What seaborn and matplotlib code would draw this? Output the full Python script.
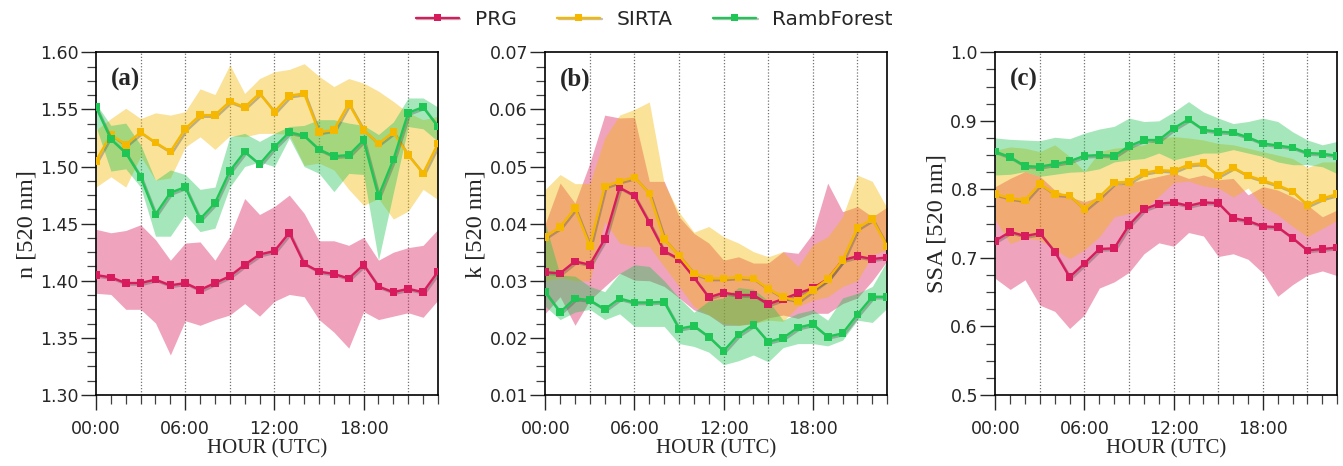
import numpy as np
import pandas as pd
import matplotlib
matplotlib.use("Agg")
import matplotlib.pyplot as plt
import seaborn as sns
from matplotlib.ticker import MultipleLocator, FormatStrFormatter, FixedLocator
from matplotlib.lines import Line2D
import matplotlib.patheffects as pe

# ---------------- data ----------------
hours = list(range(24))
hour_ticks = [0, 6, 12, 18]
hour_labels = ["00:00", "06:00", "12:00", "18:00"]
sites = ["PRG", "SIRTA", "RambForest"]

# (a) refractive index real part n
n_prg = [1.405, 1.403, 1.398, 1.398, 1.401, 1.396, 1.398, 1.392, 1.398, 1.404, 1.414, 1.423,
         1.426, 1.442, 1.415, 1.408, 1.406, 1.402, 1.414, 1.395, 1.390, 1.393, 1.390, 1.408]
n_prg_hi = [1.445, 1.442, 1.444, 1.449, 1.436, 1.418, 1.433, 1.434, 1.418, 1.439, 1.472, 1.458,
            1.465, 1.475, 1.459, 1.435, 1.435, 1.431, 1.438, 1.418, 1.425, 1.429, 1.431, 1.445]
n_prg_lo = [1.389, 1.388, 1.375, 1.375, 1.363, 1.335, 1.365, 1.361, 1.366, 1.370, 1.380, 1.369,
            1.382, 1.388, 1.386, 1.366, 1.355, 1.341, 1.373, 1.366, 1.369, 1.372, 1.368, 1.383]
n_sirta = [1.505, 1.528, 1.519, 1.530, 1.521, 1.513, 1.533, 1.545, 1.545, 1.557, 1.552, 1.564,
           1.548, 1.562, 1.564, 1.530, 1.532, 1.555, 1.532, 1.520, 1.530, 1.510, 1.494, 1.520]
n_sirta_hi = [1.532, 1.542, 1.551, 1.542, 1.547, 1.545, 1.548, 1.568, 1.563, 1.589, 1.564, 1.577,
              1.583, 1.585, 1.590, 1.579, 1.570, 1.577, 1.573, 1.566, 1.557, 1.547, 1.541, 1.544]
n_sirta_lo = [1.482, 1.491, 1.482, 1.509, 1.488, 1.490, 1.517, 1.526, 1.515, 1.527, 1.526, 1.529,
              1.529, 1.528, 1.501, 1.503, 1.497, 1.480, 1.466, 1.472, 1.454, 1.461, 1.480, 1.471]
n_ramb = [1.552, 1.524, 1.512, 1.491, 1.458, 1.477, 1.482, 1.454, 1.468, 1.496, 1.513, 1.502,
          1.517, 1.530, 1.527, 1.515, 1.509, 1.510, 1.523, 1.474, 1.506, 1.547, 1.552, 1.535]
n_ramb_hi = [1.555, 1.536, 1.538, 1.519, 1.488, 1.497, 1.493, 1.480, 1.482, 1.526, 1.529, 1.522,
             1.529, 1.535, 1.536, 1.541, 1.541, 1.538, 1.536, 1.528, 1.539, 1.560, 1.560, 1.552]
n_ramb_lo = [1.535, 1.496, 1.498, 1.482, 1.439, 1.439, 1.458, 1.443, 1.446, 1.482, 1.500, 1.504,
             1.500, 1.525, 1.500, 1.494, 1.478, 1.494, 1.493, 1.418, 1.477, 1.535, 1.533, 1.522]

# (b) imaginary part k
k_prg = [0.0315, 0.0313, 0.0334, 0.0328, 0.0373, 0.0463, 0.0449, 0.0402, 0.0352, 0.0338, 0.0306, 0.0271,
         0.0279, 0.0275, 0.0275, 0.0259, 0.0268, 0.0278, 0.0287, 0.0303, 0.0336, 0.0343, 0.0338, 0.0341]
k_prg_hi = [0.0400, 0.0471, 0.0436, 0.0506, 0.0590, 0.0585, 0.0586, 0.0474, 0.0474, 0.0412, 0.0383, 0.0366,
            0.0336, 0.0342, 0.0331, 0.0331, 0.0351, 0.0348, 0.0383, 0.0471, 0.0421, 0.0430, 0.0412, 0.0429]
k_prg_lo = [0.0243, 0.0272, 0.0222, 0.0266, 0.0290, 0.0313, 0.0301, 0.0300, 0.0290, 0.0270, 0.0249, 0.0240,
            0.0222, 0.0222, 0.0225, 0.0235, 0.0240, 0.0234, 0.0243, 0.0243, 0.0260, 0.0270, 0.0300, 0.0335]
k_sirta = [0.0377, 0.0394, 0.0427, 0.0361, 0.0465, 0.0474, 0.0481, 0.0453, 0.0373, 0.0344, 0.0313, 0.0304,
           0.0304, 0.0306, 0.0304, 0.0286, 0.0271, 0.0265, 0.0284, 0.0303, 0.0336, 0.0392, 0.0408, 0.0360]
k_sirta_hi = [0.0460, 0.0486, 0.0470, 0.0470, 0.0550, 0.0590, 0.0600, 0.0613, 0.0470, 0.0420, 0.0385, 0.0395,
              0.0377, 0.0366, 0.0351, 0.0342, 0.0351, 0.0325, 0.0363, 0.0377, 0.0412, 0.0485, 0.0474, 0.0427]
k_sirta_lo = [0.0300, 0.0305, 0.0300, 0.0300, 0.0404, 0.0366, 0.0360, 0.0360, 0.0325, 0.0290, 0.0255, 0.0240,
              0.0225, 0.0222, 0.0225, 0.0231, 0.0229, 0.0255, 0.0266, 0.0272, 0.0290, 0.0300, 0.0345, 0.0354]
k_ramb = [0.0280, 0.0245, 0.0269, 0.0266, 0.0250, 0.0269, 0.0262, 0.0262, 0.0263, 0.0216, 0.0221, 0.0202,
          0.0177, 0.0206, 0.0223, 0.0193, 0.0200, 0.0218, 0.0224, 0.0202, 0.0208, 0.0241, 0.0272, 0.0272]
k_ramb_hi = [0.0400, 0.0310, 0.0308, 0.0290, 0.0281, 0.0313, 0.0328, 0.0325, 0.0300, 0.0270, 0.0245, 0.0265,
             0.0270, 0.0288, 0.0285, 0.0265, 0.0231, 0.0243, 0.0249, 0.0231, 0.0270, 0.0278, 0.0290, 0.0335]
k_ramb_lo = [0.0255, 0.0232, 0.0245, 0.0250, 0.0232, 0.0242, 0.0220, 0.0220, 0.0220, 0.0190, 0.0185, 0.0175,
             0.0153, 0.0160, 0.0170, 0.0158, 0.0183, 0.0190, 0.0190, 0.0186, 0.0196, 0.0231, 0.0227, 0.0252]

# (c) single scattering albedo
ssa_prg = [0.725, 0.738, 0.732, 0.736, 0.709, 0.672, 0.692, 0.713, 0.714, 0.748, 0.771, 0.779,
           0.781, 0.776, 0.781, 0.780, 0.758, 0.754, 0.746, 0.745, 0.729, 0.711, 0.713, 0.715]
ssa_prg_hi = [0.804, 0.816, 0.826, 0.819, 0.799, 0.789, 0.782, 0.789, 0.806, 0.809, 0.814, 0.819,
              0.824, 0.816, 0.821, 0.814, 0.816, 0.792, 0.804, 0.799, 0.789, 0.777, 0.760, 0.770]
ssa_prg_lo = [0.670, 0.654, 0.668, 0.631, 0.622, 0.597, 0.617, 0.656, 0.665, 0.679, 0.706, 0.722,
              0.717, 0.737, 0.732, 0.702, 0.706, 0.698, 0.678, 0.644, 0.661, 0.675, 0.681, 0.674]
ssa_sirta = [0.793, 0.787, 0.784, 0.808, 0.793, 0.791, 0.771, 0.789, 0.810, 0.811, 0.824, 0.828,
             0.827, 0.836, 0.838, 0.820, 0.832, 0.820, 0.813, 0.806, 0.797, 0.777, 0.787, 0.793]
ssa_sirta_hi = [0.857, 0.862, 0.860, 0.855, 0.865, 0.848, 0.826, 0.855, 0.860, 0.862, 0.865, 0.875,
                0.877, 0.875, 0.872, 0.867, 0.865, 0.860, 0.855, 0.850, 0.845, 0.832, 0.840, 0.840]
ssa_sirta_lo = [0.755, 0.721, 0.729, 0.726, 0.712, 0.699, 0.712, 0.731, 0.760, 0.765, 0.770, 0.790,
                0.810, 0.812, 0.805, 0.802, 0.789, 0.802, 0.775, 0.763, 0.746, 0.731, 0.743, 0.755]
ssa_ramb = [0.855, 0.847, 0.834, 0.833, 0.837, 0.841, 0.849, 0.850, 0.849, 0.863, 0.872, 0.872,
            0.889, 0.902, 0.887, 0.884, 0.883, 0.876, 0.867, 0.864, 0.861, 0.853, 0.852, 0.849]
ssa_ramb_hi = [0.875, 0.873, 0.872, 0.871, 0.876, 0.874, 0.882, 0.888, 0.892, 0.904, 0.899, 0.900,
               0.913, 0.928, 0.913, 0.904, 0.896, 0.899, 0.904, 0.899, 0.884, 0.872, 0.865, 0.870]
ssa_ramb_lo = [0.821, 0.822, 0.826, 0.819, 0.822, 0.825, 0.826, 0.830, 0.840, 0.843, 0.845, 0.853,
               0.843, 0.848, 0.853, 0.853, 0.858, 0.853, 0.848, 0.840, 0.836, 0.836, 0.833, 0.823]

# ---------------- style ----------------
sns.set_style("ticks")
plt.rcParams['font.family'] = ['DejaVu Sans']
plt.rcParams['axes.linewidth'] = 1.2

palette = {"PRG": "#d81b5c", "SIRTA": "#f5b700", "RambForest": "#1fc555"}
serif = ['Liberation Serif', 'DejaVu Serif']

panels = [
    dict(tag="(a)", ylabel="n [520 nm]", ylim=(1.30, 1.60), step=0.05, fmt="%.2f",
         series={"PRG": (n_prg, n_prg_lo, n_prg_hi), "SIRTA": (n_sirta, n_sirta_lo, n_sirta_hi),
                 "RambForest": (n_ramb, n_ramb_lo, n_ramb_hi)}),
    dict(tag="(b)", ylabel="k [520 nm]", ylim=(0.01, 0.07), step=0.01, fmt="%.2f",
         series={"PRG": (k_prg, k_prg_lo, k_prg_hi), "SIRTA": (k_sirta, k_sirta_lo, k_sirta_hi),
                 "RambForest": (k_ramb, k_ramb_lo, k_ramb_hi)}),
    dict(tag="(c)", ylabel="SSA [520 nm]", ylim=(0.5, 1.0), step=0.1, fmt="%.1f",
         series={"PRG": (ssa_prg, ssa_prg_lo, ssa_prg_hi), "SIRTA": (ssa_sirta, ssa_sirta_lo, ssa_sirta_hi),
                 "RambForest": (ssa_ramb, ssa_ramb_lo, ssa_ramb_hi)}),
]

fig = plt.figure(figsize=(13.43, 4.66), dpi=100)
lefts = [0.0715, 0.4060, 0.7411]
shadow = [pe.SimpleLineShadow(offset=(1.2, -1.2), alpha=0.35, shadow_color='0.3'), pe.Normal()]

for left, p in zip(lefts, panels):
    ax = fig.add_axes([left, 0.1524, 0.2546, 0.7354])
    # grid lines every 3 h
    for h in range(3, 23, 3):
        ax.axvline(h, color='0.45', ls=(0, (1, 1.5)), lw=0.9, zorder=0.5)
    rows = []
    for s in sites:
        mean, lo, hi = p["series"][s]
        ax.fill_between(hours, lo, hi, color=palette[s], alpha=0.4, lw=0, zorder=1)
        for h, v in zip(hours, mean):
            rows.append({"hour": h, "value": v, "site": s})
    df = pd.DataFrame(rows)
    sns.lineplot(data=df, x="hour", y="value", hue="site", hue_order=sites, palette=palette,
                 marker="s", markersize=5.5, markeredgewidth=0, linewidth=1.7,
                 legend=False, ax=ax, zorder=3, path_effects=shadow)
    ax.set_xlim(0, 23)
    ax.set_ylim(*p["ylim"])
    ax.xaxis.set_major_locator(FixedLocator(hour_ticks))
    ax.set_xticklabels(hour_labels)
    ax.xaxis.set_minor_locator(MultipleLocator(1))
    ax.yaxis.set_major_locator(MultipleLocator(p["step"]))
    ax.yaxis.set_minor_locator(MultipleLocator(p["step"] / 4))
    ax.yaxis.set_major_formatter(FormatStrFormatter(p["fmt"]))
    ax.tick_params(axis='both', which='major', length=11, width=1.0, direction='out',
                   labelsize=12.5, color='0.15')
    ax.tick_params(axis='x', which='major', pad=7)
    ax.tick_params(axis='y', which='major', pad=1.5)
    ax.tick_params(axis='both', which='minor', length=6.5, width=0.9, direction='out', color='0.25')
    for sp in ax.spines.values():
        sp.set_visible(True)
        sp.set_color('black')
        sp.set_linewidth(1.2)
    ax.set_ylabel(p["ylabel"], fontsize=17.5, family=serif, labelpad=2)
    ax.set_xlabel("HOUR (UTC)", fontsize=15, family=serif, labelpad=1)
    ax.text(0.042, 0.955, p["tag"], transform=ax.transAxes, ha='left', va='top',
            fontsize=18, fontweight='bold', family=serif)

handles = [Line2D([0], [0], color=palette[s], lw=1.7, marker='s', markersize=5, markeredgewidth=0,
                  path_effects=shadow) for s in sites]
fig.legend(handles, sites, loc='upper center', bbox_to_anchor=(0.487, 1.018), ncol=3, frameon=False,
           fontsize=14.5, handlelength=2.15, handletextpad=0.8, columnspacing=2.0)

fig.savefig("out.png", dpi=100)
